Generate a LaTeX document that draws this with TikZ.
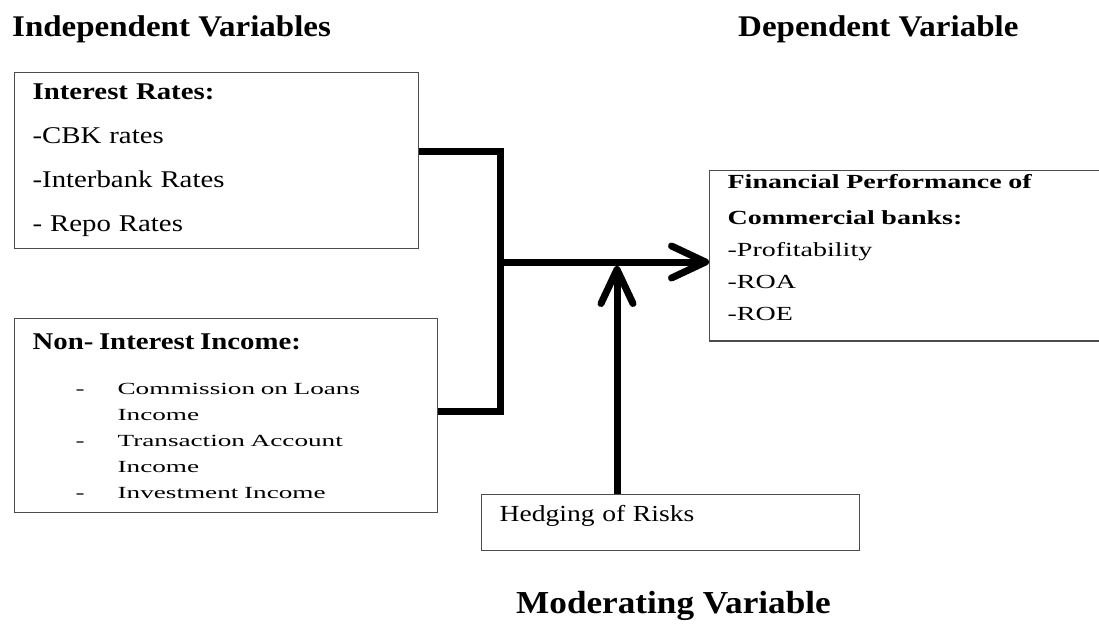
\documentclass[tikz,border=0pt]{standalone}
\usepackage{fontspec}
\setmainfont{Liberation Serif}
\newfontfamily\titlefont[FakeStretch=1.1]{Liberation Serif}
\newfontfamily\boxfont[FakeStretch=1.2]{Liberation Serif}
\newfontfamily\widefont[FakeStretch=1.4]{Liberation Serif}
\newfontfamily\spreadfont[FakeStretch=1.6]{Liberation Serif}
\usetikzlibrary{arrows.meta, positioning}
\newcommand{\dashitem}[1]{\hspace*{43pt}\makebox[42pt][l]{-}#1}

\begin{document}
\begin{tikzpicture}[x=1pt, y=-1pt,
                heading/.style={font=\titlefont\fontsize{30}{36}\selectfont\bfseries, inner sep=0pt, anchor=base west},
                varbox/.style={rectangle, draw=black!70, line width=1.2pt, align=left, inner xsep=18pt, anchor=north west},
                link/.style={line width=7pt},
                arrow/.style={link, -{Straight Barb[length=34pt, width=32pt, round]}}
            ]%
            \useasboundingbox (0,0) rectangle (1099,628);
            %
            % Titulos
            \node[heading] (indtitle) at (12,37) {Independent Variables};
            \node[heading] (deptitle) at (738,37) {Dependent Variable};
            \node[heading, font=\titlefont\fontsize{32}{36}\selectfont\bfseries] (modtitle) at (516,613) {Moderating Variable};
            %
            % Variables independientes
            \node[varbox, text width=368pt, minimum height=176pt, font=\boxfont\fontsize{24}{44}\selectfont] (intbox) at (14,72) {\textbf{Interest Rates:}\\-CBK rates\\-Interbank Rates\\- Repo Rates};
            \node[varbox, text width=387pt, minimum height=194pt, font=\spreadfont\fontsize{17}{26}\selectfont, below=69pt of intbox.south west, anchor=north west] (nonintbox) {{\boxfont\fontsize{24}{26}\selectfont\bfseries Non- Interest Income:}\\[19pt]
                \dashitem{Commission on Loans}\\\hspace*{85pt}Income\\
                \dashitem{Transaction Account}\\\hspace*{85pt}Income\\
                \dashitem{Investment Income}};
            %
            % Variable dependiente y moderadora
            \node[varbox, text width=377pt, inner ysep=4.3pt, text depth=147.7pt, font=\widefont\fontsize{20}{32}\selectfont] (perfbox) at (709,170) {\textbf{Financial Performance of}\\[4pt]\textbf{Commercial banks:}\\-Profitability\\-ROA\\-ROE};
            \node[varbox, text width=342pt, minimum height=56pt, text depth=19pt, font=\boxfont\fontsize{23}{28}\selectfont] (hedgebox) at (481,494) {Hedging of Risks};
            %
            % Conexiones
            \coordinate (merge) at (500,262);
            \coordinate (lift) at (617,266);
            \draw[link] ([yshift=9pt]intbox.east) -| (merge) |- ([yshift=4pt]nonintbox.east);
            \draw[arrow] (merge) -- (merge -| perfbox.west);
            \draw[arrow] (hedgebox.north -| lift) -- (lift);
        \end{tikzpicture}
\end{document}
